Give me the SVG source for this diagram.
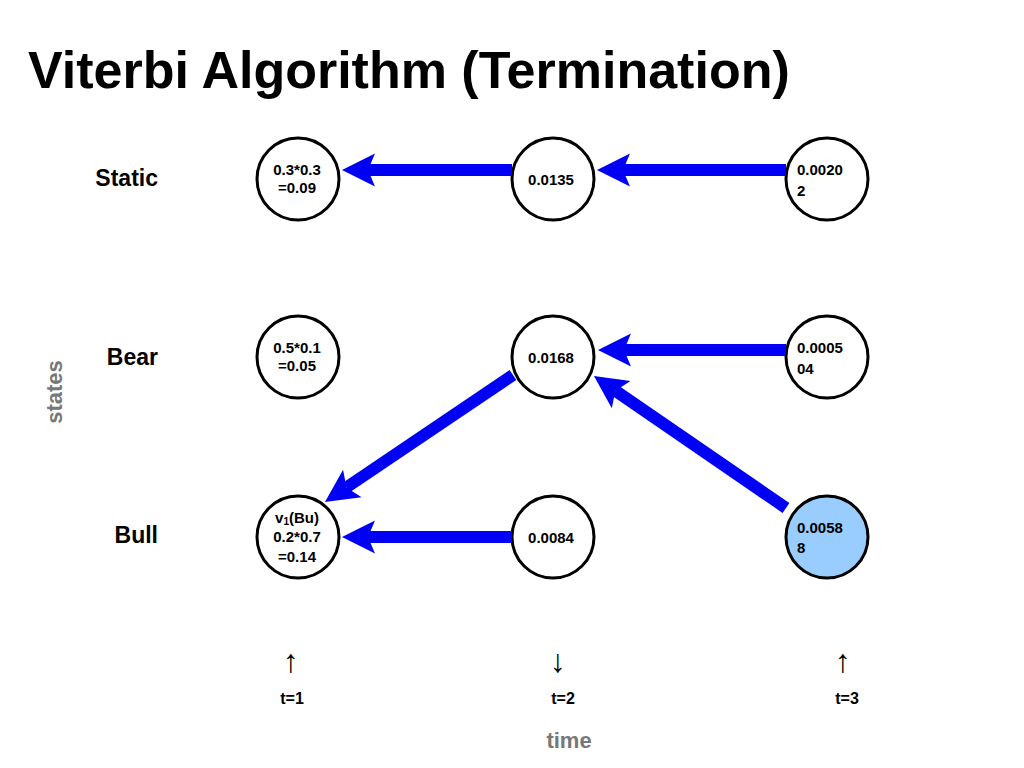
<svg xmlns="http://www.w3.org/2000/svg" width="1024" height="768" viewBox="0 0 1024 768">
<style>
.title{font-family:"Liberation Sans",Arial,sans-serif;font-weight:bold;font-size:52px;fill:#000}
.row{font-family:"Liberation Sans",Arial,sans-serif;font-weight:bold;font-size:23px;fill:#000;text-anchor:end}
.axis{font-family:"Liberation Sans",Arial,sans-serif;font-weight:bold;font-size:22px;fill:#777;text-anchor:middle}
.node circle{fill:#fff;stroke:#000;stroke-width:3}
.node.hl circle{fill:#99ccff}
.nt{font-family:"Liberation Sans",Arial,sans-serif;font-weight:bold;font-size:15px;fill:#000}
.c{text-anchor:middle}
.conn line{stroke:#0000f5;stroke-width:12;fill:none;marker-end:url(#head)}
.tick{font-family:"Liberation Sans",Arial,sans-serif;font-size:32px;fill:#000;text-anchor:middle}
.tl{font-family:"Liberation Sans",Arial,sans-serif;font-weight:bold;font-size:16px;fill:#000;text-anchor:middle}
</style>
<defs>
<marker id="head" viewBox="0 0 34 34" refX="8" refY="17" markerWidth="34" markerHeight="34" markerUnits="userSpaceOnUse" orient="auto">
<path d="M34,17 L1,0.5 L8,17 L1,33.5 Z" fill="#0000f5"/>
</marker>
</defs>
<rect width="1024" height="768" fill="#fff"/>
<text class="title" x="28" y="88">Viterbi Algorithm (Termination)</text>
<text class="row" x="158" y="186">Static</text>
<text class="row" x="158" y="365">Bear</text>
<text class="row" x="158" y="543">Bull</text>
<text class="axis" transform="translate(62,392) rotate(-90)">states</text>
<text class="axis" x="569" y="748">time</text>

<g id="n-static-1" class="node"><circle cx="298" cy="179" r="41"/><text class="nt c" x="297" y="175">0.3*0.3</text><text class="nt c" x="297" y="193">=0.09</text></g>
<g id="n-static-2" class="node"><circle cx="553" cy="179" r="41"/><text class="nt c" x="551" y="185">0.0135</text></g>
<g id="n-static-3" class="node"><circle cx="827" cy="179" r="41"/><text class="nt" x="797" y="175">0.0020</text><text class="nt" x="797" y="196">2</text></g>

<g id="n-bear-1" class="node"><circle cx="298" cy="357" r="41"/><text class="nt c" x="297" y="353">0.5*0.1</text><text class="nt c" x="297" y="371">=0.05</text></g>
<g id="n-bear-2" class="node"><circle cx="553" cy="357" r="41"/><text class="nt c" x="551" y="363">0.0168</text></g>
<g id="n-bear-3" class="node"><circle cx="827" cy="357" r="41"/><text class="nt" x="797" y="353">0.0005</text><text class="nt" x="797" y="374">04</text></g>

<g id="n-bull-1" class="node"><circle cx="298" cy="537" r="41"/><text class="nt c" x="297" y="523">v<tspan font-size="10" dy="2">1</tspan><tspan dy="-2">(Bu)</tspan></text><text class="nt c" x="297" y="542">0.2*0.7</text><text class="nt c" x="297" y="562">=0.14</text></g>
<g id="n-bull-2" class="node"><circle cx="553" cy="537" r="41"/><text class="nt c" x="551" y="543">0.0084</text></g>
<g id="n-bull-3" class="node hl"><circle cx="827" cy="537" r="41"/><text class="nt" x="797" y="533">0.0058</text><text class="nt" x="797" y="553">8</text></g>

<g id="connectors" class="conn">
<line x1="512" y1="170" x2="368" y2="170"/>
<line x1="786" y1="170" x2="623" y2="170"/>
<line x1="786" y1="350" x2="624" y2="350"/>
<line x1="786" y1="508" x2="615.4" y2="390.7"/>
<line x1="513" y1="375" x2="346.5" y2="487.4"/>
<line x1="512" y1="537" x2="368" y2="537"/>
</g>

<text class="tick" x="291" y="672">↑</text>
<text class="tick" x="558" y="672">↓</text>
<text class="tick" x="843" y="672">↑</text>
<text class="tl" x="292" y="704">t=1</text>
<text class="tl" x="563" y="704">t=2</text>
<text class="tl" x="847" y="704">t=3</text>
</svg>
